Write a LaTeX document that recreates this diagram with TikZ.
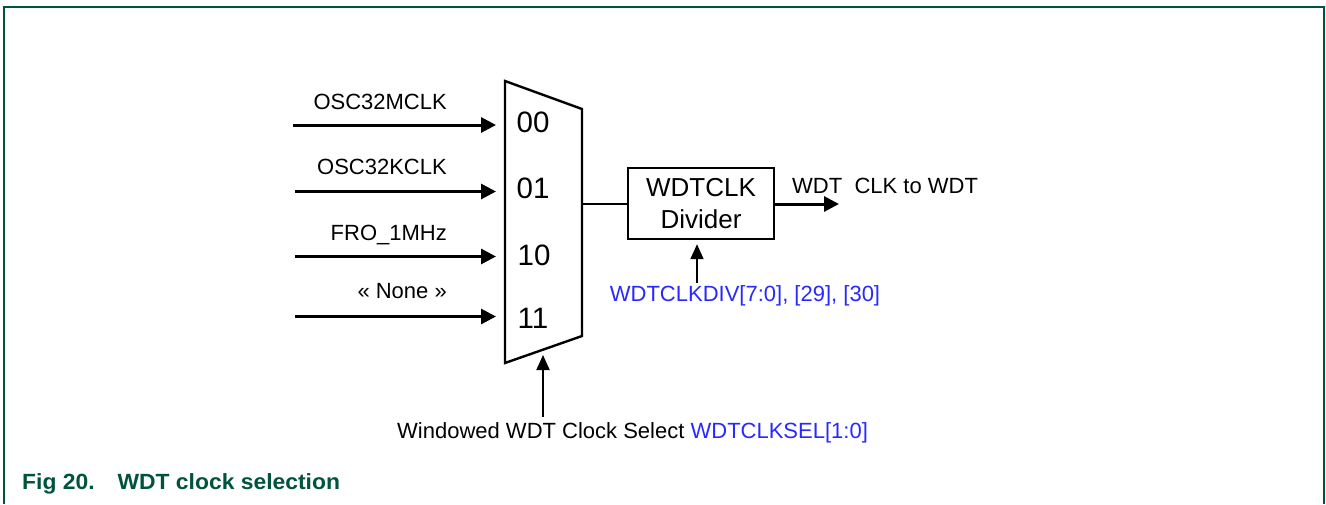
\documentclass[tikz,border=0pt]{standalone}
\usepackage{fontspec}
\setmainfont{Liberation Sans}
\usetikzlibrary{arrows.meta}
\definecolor{nxpgreen}{RGB}{0,84,62}
\definecolor{regblue}{RGB}{40,40,255}
\begin{document}
\begin{tikzpicture}[x=1pt,y=-1pt,
  sig/.style={line width=3pt,-{Triangle[length=15pt,width=15pt]}},
  ctl/.style={line width=2pt,-{Triangle[length=15pt,width=13pt]}},
  wire/.style={line width=2.4pt},
  lbl/.style={font=\fontsize{22}{24}\selectfont, inner sep=0pt},
  sel/.style={font=\fontsize{29.5}{32}\selectfont, inner sep=0pt},
  blockbox/.style={draw, line width=2.4pt, minimum width=146pt, minimum height=71pt,
    inner sep=0pt, align=center, font=\fontsize{26}{32}\selectfont},
  regtxt/.style={lbl, text=regblue},
  caption/.style={font=\fontsize{22}{24}\selectfont\bfseries, text=nxpgreen, inner sep=0pt}
]
\useasboundingbox (0,0) rectangle (1326,504);
% frame
\draw[nxpgreen, line width=2.2pt] (4,504) -- (4,7) -- (1324,7) -- (1324,504);

% multiplexer
\coordinate (mTL) at (505,81);
\coordinate (mTR) at (582,109);
\coordinate (mBR) at (582,336);
\coordinate (mBL) at (505,363);
\draw[wire, line join=miter] (mTL) -- (mTR) -- (mBR) -- (mBL) -- cycle;

\node[sel] (s00) at (533,122) {00};
\node[sel] (s01) at (533,188) {01};
\node[sel] (s10) at (534,255) {10};
\node[sel] (s11) at (533,318) {11};

% inputs
\coordinate (i0) at (293,125);   \coordinate (t0) at (496,125);
\coordinate (i1) at (295,191.5); \coordinate (t1) at (496,191.5);
\coordinate (i2) at (295,256.5); \coordinate (t2) at (496,256.5);
\coordinate (i3) at (295,316.5); \coordinate (t3) at (496,316.5);
\draw[sig] (i0) -- (t0);
\draw[sig] (i1) -- (t1);
\draw[sig] (i2) -- (t2);
\draw[sig] (i3) -- (t3);

\node[lbl, anchor=base east] (l0) at (447,109) {OSC32MCLK};
\node[lbl, anchor=base east] (l1) at (447,174) {OSC32KCLK};
\node[lbl, anchor=base east] (l2) at (447,240) {FRO\_1MHz};
\node[lbl, anchor=base east] (l3) at (447,298) {« None »};

% divider
\node[blockbox] (div) at (701,203.5) {WDTCLK\\Divider};
\coordinate (mOut) at (582,204);
\draw[wire] (mOut) -- (mOut -| div.west);

\coordinate (wdt) at (839,204);
\draw[sig] (div.east |- wdt) -- (wdt);
\node[lbl, anchor=base west] (wdtlbl) at (792,193) {WDT\ \ CLK to WDT};

\coordinate (dctl) at (697,283);
\draw[ctl, shorten >=4pt] (dctl) -- (dctl |- div.south);
\node[regtxt, anchor=base] (divreg) at (745,301) {WDTCLKDIV[7:0], [29], [30]};

% select
\coordinate (sctl) at (543,417);
\coordinate (stip) at (543,355);
\draw[ctl] (sctl) -- (stip);
\node[lbl, anchor=base west] (seltxt) at (397,438) {Windowed WDT Clock Select \textcolor{regblue}{WDTCLKSEL[1:0]}};

% caption
\node[caption, anchor=base west] (cap) at (22,489) {\scalebox{1.04}[1]{Fig 20.\hspace*{22pt}WDT clock selection}};
\end{tikzpicture}
\end{document}
